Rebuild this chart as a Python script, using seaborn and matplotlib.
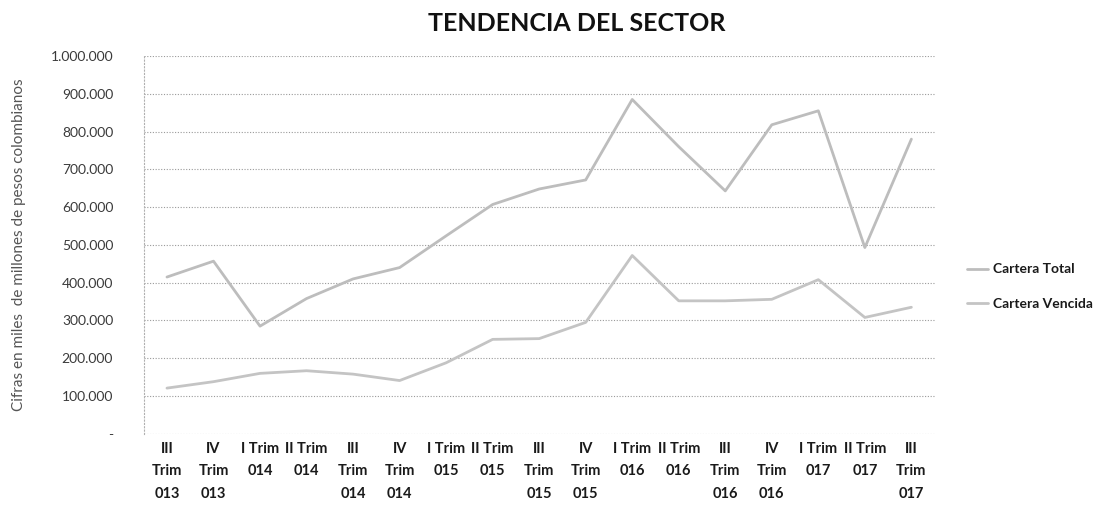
import pandas as pd
import matplotlib
matplotlib.use("Agg")
import matplotlib.pyplot as plt
import seaborn as sns
from matplotlib.ticker import FuncFormatter, MultipleLocator

# datos (miles de millones de pesos)
trimestres = ["III\nTrim\n013", "IV\nTrim\n013", "I Trim\n014", "II Trim\n014",
              "III\nTrim\n014", "IV\nTrim\n014", "I Trim\n015", "II Trim\n015",
              "III\nTrim\n015", "IV\nTrim\n015", "I Trim\n016", "II Trim\n016",
              "III\nTrim\n016", "IV\nTrim\n016", "I Trim\n017", "II Trim\n017",
              "III\nTrim\n017"]
cartera_total = [415000, 457000, 285000, 358000, 410000, 440000, 524000, 607000,
                 648000, 672000, 885000, 760000, 643000, 818000, 855000, 493000,
                 780000]
cartera_vencida = [121000, 138000, 160000, 167000, 158000, 141000, 188000, 250000,
                   252000, 295000, 472000, 352000, 352000, 356000, 408000, 308000,
                   335000]
series = ["Cartera Total", "Cartera Vencida"]

df = pd.DataFrame({
    "pos": list(range(len(trimestres))) * 2,
    "valor": cartera_total + cartera_vencida,
    "serie": [series[0]] * len(trimestres) + [series[1]] * len(trimestres),
})

sns.set_style("white")
plt.rcParams["font.family"] = ["Lato", "DejaVu Sans"]

fig = plt.figure(figsize=(11.14, 5.14), dpi=100)
ax = fig.add_axes([0.129, 0.156, 0.71, 0.735])

sns.lineplot(data=df, x="pos", y="valor", hue="serie",
             palette={series[0]: "#bdbdbd", series[1]: "#c4c4c4"},
             linewidth=2, ax=ax, legend=True)

ax.set_xlim(-0.5, len(trimestres) - 0.5)
ax.set_ylim(0, 1000000)
ax.yaxis.set_major_locator(MultipleLocator(100000))

def fmt_miles(v, pos):
    if v == 0:
        return "-"
    return f"{int(v):,}".replace(",", ".")

ax.yaxis.set_major_formatter(FuncFormatter(fmt_miles))
ax.set_xticks(range(len(trimestres)))
ax.set_xticklabels(trimestres, fontsize=10.5, fontweight="bold", color="#1a1a1a",
                   linespacing=1.75, va="top")
ax.tick_params(axis="y", labelsize=10, labelcolor="#3a3a3a", length=0, pad=22)
ax.tick_params(axis="x", length=0, pad=6)

ax.grid(axis="y", color="#9a9a9a", linestyle=(0, (1, 1.5)), linewidth=0.8)
for side in ["top", "right", "bottom"]:
    ax.spines[side].set_visible(False)
ax.spines["left"].set_color("#b0b0b0")
ax.spines["left"].set_linestyle((0, (1, 2)))
ax.spines["left"].set_linewidth(0.8)

ax.set_xlabel("")
ax.set_ylabel("Cifras en miles  de millones de pesos colombianos",
              fontsize=11, color="#555555", labelpad=18)

leg = ax.legend(loc="center left", bbox_to_anchor=(1.025, 0.39), frameon=False,
                fontsize=10, handlelength=1.5, handletextpad=0.4, labelspacing=1.6)
for t in leg.get_texts():
    t.set_fontweight("bold")
    t.set_color("#1a1a1a")

fig.text(0.518, 0.955, "TENDENCIA DEL SECTOR", ha="center", va="center",
         fontsize=18, fontweight="bold", color="#111111")

fig.savefig("out.png", dpi=100, facecolor="white")
